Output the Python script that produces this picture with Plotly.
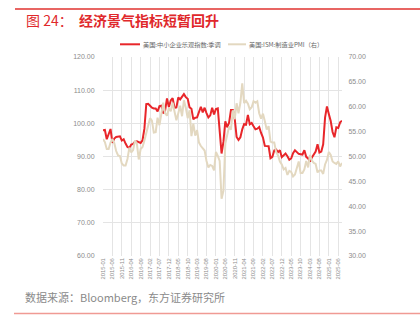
import pandas as pd
import plotly.graph_objects as go

# Monthly labels, 2015-01 .. 2025-08
months = [p.strftime("%Y-%m") for p in pd.period_range("2015-01", "2025-08", freq="M")]
tick_labels = months[::5]

# NFIB small business optimism index, seasonally adjusted (left axis)
nfib = [
    97.9, 98.0, 95.2, 96.9, 98.3, 94.1, 95.4, 95.9, 96.1, 96.1, 94.8, 95.2,
    93.9, 92.9, 92.6, 93.6, 93.8, 94.5, 94.6, 94.4, 94.1, 94.9, 98.4, 105.8,
    105.9, 105.3, 104.7, 104.5, 104.5, 103.6, 105.2, 105.3, 103.0, 103.8, 107.5, 104.9,
    106.9, 107.6, 104.7, 104.8, 107.8, 107.2, 107.9, 108.8, 107.9, 107.4, 104.8, 104.4,
    101.2, 101.7, 101.8, 103.5, 105.0, 103.3, 104.7, 103.1, 101.8, 102.4, 104.7, 102.7,
    104.3, 104.5, 96.4, 90.9, 94.4, 100.6, 98.8, 100.2, 104.0, 104.0, 101.4, 95.9,
    95.0, 95.8, 98.2, 99.8, 99.6, 102.5, 99.7, 100.1, 99.1, 98.2, 98.4, 98.9,
    97.1, 95.7, 93.2, 93.2, 93.1, 89.5, 89.9, 91.8, 92.1, 91.3, 91.9, 89.8,
    90.3, 90.9, 90.1, 89.0, 89.4, 91.0, 91.9, 91.3, 90.8, 90.7, 90.6, 91.9,
    89.9, 89.4, 88.5, 89.7, 90.5, 91.5, 93.7, 91.2, 91.5, 93.7, 101.7, 105.1,
    102.8, 100.7, 97.4, 95.8, 98.8, 98.6, 100.3, 100.8,
]

# ISM manufacturing PMI (right axis)
ism_pmi = [
    53.5, 52.9, 51.5, 51.5, 52.8, 53.5, 52.7, 51.1, 50.2, 50.1, 48.6, 48.2,
    48.2, 49.5, 51.8, 50.8, 51.3, 53.2, 52.6, 49.4, 51.5, 51.9, 53.2, 54.7,
    56.0, 57.7, 57.2, 54.8, 54.9, 57.8, 56.3, 58.8, 60.8, 58.7, 58.2, 59.7,
    59.1, 60.8, 59.3, 57.3, 58.7, 60.2, 58.1, 61.3, 59.8, 57.7, 59.3, 54.1,
    56.6, 54.2, 55.3, 52.8, 52.1, 51.7, 51.2, 49.1, 47.8, 48.3, 48.1, 47.2,
    50.9, 50.1, 49.1, 41.5, 43.1, 52.6, 54.2, 56.0, 55.4, 59.3, 57.5, 60.7,
    58.7, 60.8, 64.7, 60.7, 61.2, 60.6, 59.5, 59.9, 61.1, 60.8, 61.1, 58.7,
    57.6, 58.6, 57.1, 55.4, 56.1, 53.0, 52.8, 52.8, 50.9, 50.2, 49.0, 48.4,
    47.4, 47.7, 46.3, 47.1, 46.9, 46.0, 46.4, 47.6, 49.0, 46.7, 46.7, 47.4,
    49.1, 47.8, 50.3, 49.2, 48.7, 48.5, 46.8, 47.2, 47.2, 46.5, 48.4, 49.3,
    50.9, 50.3, 49.0, 48.7, 48.5, 49.0, 48.0, 48.7,
]

name_nfib = "美国:中小企业乐观指数:季调"
name_ism = "美国:ISM:制造业PMI（右）"
title_num = "图 24："
title_text = "经济景气指标短暂回升"
source_text = "数据来源：Bloomberg，东方证券研究所"

RED = "#e8262a"
BEIGE = "#e3d8c0"
GRID = "#e4e4e4"
TICK = "#8c8c8c"
FONT = "Liberation Sans, Noto Sans CJK SC, sans-serif"
CJK = "Noto Sans CJK SC, sans-serif"

W, H = 420, 325
ML, MR, MT, MB = 103, 78, 57, 69
PW, PH = W - ML - MR, H - MT - MB


def fx(x):
    return (x - ML) / PW


def fy(y):
    return (H - MB - y) / PH


fig = go.Figure()
fig.add_trace(go.Scatter(x=months, y=ism_pmi, name=name_ism, yaxis="y2",
                         mode="lines", line=dict(color=BEIGE, width=2)))
fig.add_trace(go.Scatter(x=months, y=nfib, name=name_nfib, yaxis="y",
                         mode="lines", line=dict(color=RED, width=2)))

shapes = [
    # header and footer rules
    dict(type="line", xref="paper", yref="paper", x0=fx(15), x1=fx(420),
         y0=fy(9), y1=fy(9), line=dict(color="#e0322f", width=1.5)),
    dict(type="line", xref="paper", yref="paper", x0=fx(14), x1=fx(420),
         y0=fy(313.5), y1=fy(313.5), line=dict(color="#f09a94", width=1.5)),
    # legend swatches
    dict(type="line", xref="paper", yref="paper", x0=fx(120), x1=fx(140),
         y0=fy(44.3), y1=fy(44.3), line=dict(color=RED, width=2)),
    dict(type="line", xref="paper", yref="paper", x0=fx(228), x1=fx(246),
         y0=fy(44.3), y1=fy(44.3), line=dict(color=BEIGE, width=2)),
]

annotations = [
    dict(text=title_num, xref="paper", yref="paper",
         x=fx(24), y=fy(20), xanchor="left", yanchor="middle", showarrow=False,
         font=dict(family=CJK, size=14, color="#e0282b")),
    dict(text="<b>" + title_text + "</b>", xref="paper", yref="paper",
         x=fx(77), y=fy(20), xanchor="left", yanchor="middle", showarrow=False,
         font=dict(family=CJK, size=14, color="#e0282b")),
    dict(text=source_text, xref="paper", yref="paper",
         x=fx(23), y=fy(297), xanchor="left", yanchor="middle", showarrow=False,
         font=dict(family=CJK, size=11, color="#8a8a8a")),
    dict(text=name_nfib, xref="paper", yref="paper",
         x=fx(141), y=fy(44.3), xanchor="left", yanchor="middle", showarrow=False,
         font=dict(family=CJK, size=6.2, color="#666666")),
    dict(text=name_ism, xref="paper", yref="paper",
         x=fx(247), y=fy(44.3), xanchor="left", yanchor="middle", showarrow=False,
         font=dict(family=CJK, size=6.2, color="#666666")),
]

fig.update_layout(
    width=W, height=H,
    margin=dict(l=ML, r=MR, t=MT, b=MB, pad=0),
    paper_bgcolor="white", plot_bgcolor="white",
    showlegend=False,
    font=dict(family=FONT, color=TICK),
    shapes=shapes,
    annotations=annotations,
    xaxis=dict(
        type="category", categoryorder="array", categoryarray=months,
        range=[0, len(months) - 1],
        tickmode="array", tickvals=tick_labels, ticktext=tick_labels,
        tickangle=-90, tickfont=dict(size=5.8, color=TICK),
        showgrid=True, gridcolor=GRID, gridwidth=1,
        showline=False, zeroline=False, ticks="", ticklen=0,
    ),
    yaxis=dict(
        range=[60, 120], dtick=10, tickformat=".2f",
        tickfont=dict(size=7, color=TICK),
        showgrid=True, gridcolor=GRID, gridwidth=1,
        showline=False, zeroline=False, ticks="outside", ticklen=6,
        tickcolor="rgba(0,0,0,0)",
    ),
    yaxis2=dict(
        overlaying="y", side="right",
        range=[30, 70], dtick=5, tickformat=".2f",
        tickfont=dict(size=7, color=TICK),
        showgrid=False, showline=False, zeroline=False,
        ticks="outside", ticklen=4, tickcolor="rgba(0,0,0,0)",
    ),
)

fig.write_html("out.html")
